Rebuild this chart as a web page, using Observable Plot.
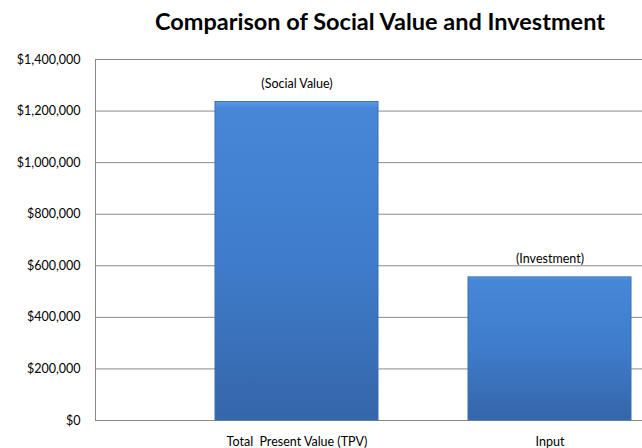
<!DOCTYPE html>
<html>
<head>
<meta charset="utf-8">
<script src="https://cdn.jsdelivr.net/npm/d3@7"></script>
<script src="https://cdn.jsdelivr.net/npm/@observablehq/plot@0.6"></script>
<style>
  html, body { margin: 0; padding: 0; background: #fff; overflow: hidden; }
  #title { height: 44px; box-sizing: border-box; padding-left: 118px; padding-top: 7px; text-align: center; line-height: 28px;
           font-family: Lato, "Open Sans", sans-serif; font-weight: bold; font-size: 23.5px; color: #000; }
</style>
</head>
<body>
<div id="title">Comparison of Social Value and Investment</div>
<div id="chart"></div>
<script>
const categories = ["Total  Present Value (TPV)", "Input"];
const values = [1235000, 555000];
const barLabels = ["(Social Value)", "(Investment)"];
const yTicks = [0, 200000, 400000, 600000, 800000, 1000000, 1200000, 1400000];

const data = categories.map((c, i) => ({category: c, value: values[i], label: barLabels[i]}));

const chart = Plot.plot({
  width: 642,
  height: 416,
  marginTop: 15,
  marginLeft: 95,
  marginRight: 0,
  marginBottom: 40,
  style: {fontFamily: "Lato, 'Open Sans', sans-serif", fontSize: "12.5px", color: "#000", background: "#fff"},
  x: {domain: categories, range: [170, 676], paddingInner: 0.355, paddingOuter: 0.1775, label: null},
  y: {domain: [0, 1400000], label: null},
  marks: [
    Plot.ruleY(yTicks, {stroke: "#8a8a8a", strokeWidth: 1, strokeOpacity: 1}),
    Plot.barY(data, {x: "category", y: "value", fill: "url(#barGrad)", stroke: "#3a6fb5", strokeWidth: 1}),
    Plot.text(data, {x: "category", y: "value", text: "label", dy: -18, fontSize: 12.5, fill: "#000"}),
    Plot.axisY({ticks: yTicks, tickSize: 0, tickPadding: 15, tickFormat: d3.format("$,"), fontSize: 12.5}),
    Plot.axisX({tickSize: 0, tickPadding: 17, fontSize: 12.5}),
    Plot.frame({anchor: "left", stroke: "#8a8a8a"})
  ]
});

const svg = d3.select(chart);
const defs = svg.insert("defs", ":first-child");
const g = defs.append("linearGradient").attr("id", "barGrad").attr("x1", 0).attr("y1", 0).attr("x2", 0).attr("y2", 1);
g.append("stop").attr("offset", "0%").attr("stop-color", "#5d9be6");
g.append("stop").attr("offset", "2%").attr("stop-color", "#4787d8");
g.append("stop").attr("offset", "50%").attr("stop-color", "#3f7ccb");
g.append("stop").attr("offset", "100%").attr("stop-color", "#3466a9");

document.getElementById("chart").appendChild(chart);
</script>
</body>
</html>
